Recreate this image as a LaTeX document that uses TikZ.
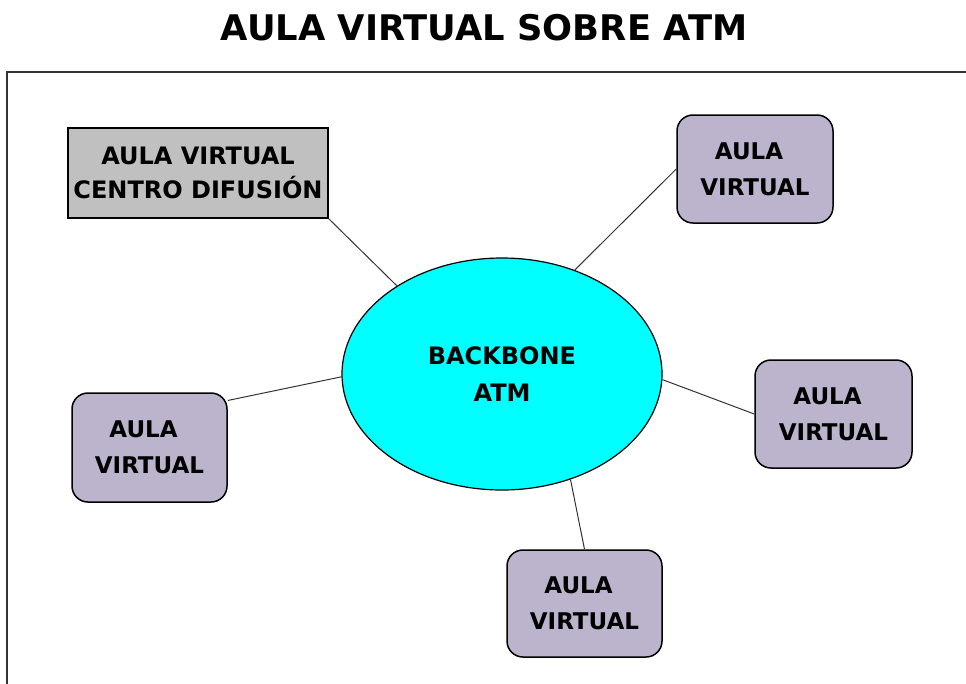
\documentclass[tikz,border=0pt]{standalone}
\usepackage{fontspec}
\setmainfont{DejaVu Sans}
\usetikzlibrary{shapes.geometric}
\definecolor{roomfill}{HTML}{BCB4CC}
\definecolor{hubfill}{HTML}{C0C0C0}
\definecolor{corefill}{HTML}{00FFFF}
\definecolor{edgegray}{HTML}{333333}
\tikzset{
  room/.style={draw=black, line width=1.5pt, fill=roomfill, rounded corners=16pt,
    inner sep=0pt, align=center, font=\bfseries\fontsize{23}{36}\selectfont},
  hub/.style={draw=black, line width=1.5pt, fill=hubfill, inner sep=0pt,
    align=center, font=\bfseries\fontsize{24}{34}\selectfont},
  core/.style={ellipse, draw=black, line width=1.2pt, fill=corefill, inner sep=0pt,
    align=center, font=\bfseries\fontsize{24}{37}\selectfont},
  link/.style={draw=edgegray, line width=1pt},
  frame/.style={draw=edgegray, line width=2pt}
}
\begin{document}
\begin{tikzpicture}[x=1pt,y=-1pt]
  \useasboundingbox (0,0) rectangle (966,683);
  \clip (0,0) rectangle (966,683);
  % outer frame (right and bottom edges run past the page)
  \draw[frame] (7,700) -- (7,72) -- (990,72);
  % title
  \node[font=\bfseries\fontsize{35.3}{40}\selectfont] (title) at (484,28) {AULA VIRTUAL SOBRE ATM};
  % central backbone
  \node[core, minimum width=320pt, minimum height=232pt] (bb) at (502,374) {BACKBONE\\ATM};
  % broadcasting classroom
  \node[hub, minimum width=260pt, minimum height=90pt] (hub) at (198,173) {AULA VIRTUAL\\CENTRO DIFUSIÓN};
  % remote classrooms
  \node[room, minimum width=156pt, minimum height=108pt] (tr) at (755,169) {AULA\hspace*{12pt}\\VIRTUAL};
  \node[room, minimum width=155pt, minimum height=109pt] (lb) at (149.5,447.5) {AULA\hspace*{12pt}\\VIRTUAL};
  \node[room, minimum width=157pt, minimum height=108pt] (rb) at (833.5,414) {AULA\hspace*{12pt}\\VIRTUAL};
  \node[room, minimum width=155pt, minimum height=107pt] (bt) at (584.5,603.5) {AULA\hspace*{12pt}\\VIRTUAL};
  % links to the backbone
  \draw[link] (hub.south east) -- (bb.140);
  \draw[link] (tr.west) -- (bb.55);
  \draw[link] (lb.31) -- (bb.181);
  \draw[link] (rb.west) -- (bb.-2);
  \draw[link] (bt.north) -- (bb.-57);
\end{tikzpicture}
\end{document}
